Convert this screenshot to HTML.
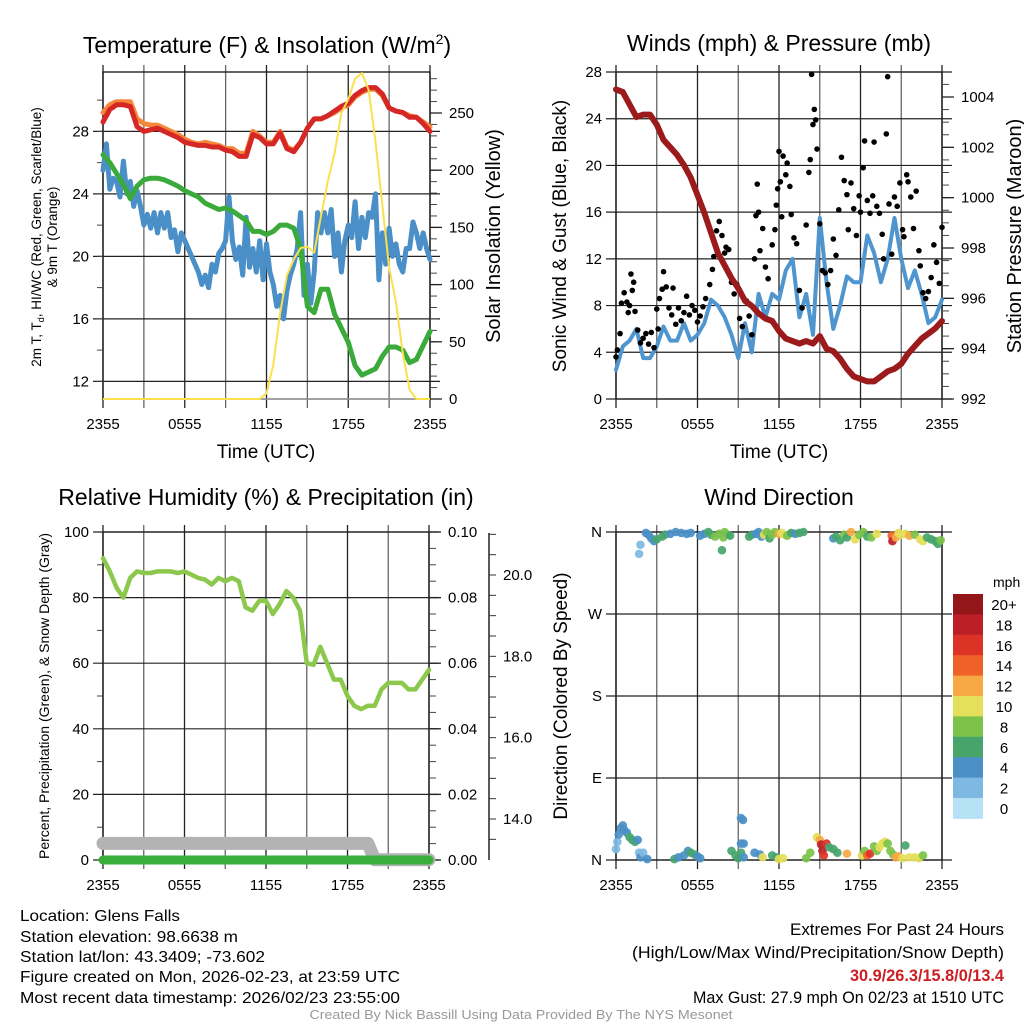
<!DOCTYPE html>
<html><head><meta charset="utf-8"><style>
html,body{margin:0;padding:0;background:#fff}
svg{display:block;font-family:"Liberation Sans",Arial,sans-serif}
</style></head><body>
<svg id="fig" width="1024" height="1024" viewBox="0 0 1024 1024" xmlns="http://www.w3.org/2000/svg">
<rect width="1024" height="1024" fill="#fff"/>
<text x="267" y="53" font-size="23" text-anchor="middle">Temperature (F) &amp; Insolation (W/m<tspan font-size="14" dy="-9">2</tspan><tspan dy="9">)</tspan></text>
<text x="779" y="51" font-size="23" text-anchor="middle">Winds (mph) &amp; Pressure (mb)</text>
<text x="266" y="505" font-size="23" text-anchor="middle">Relative Humidity (%) &amp; Precipitation (in)</text>
<text x="779" y="505" font-size="23" text-anchor="middle">Wind Direction</text>

<text x="266" y="458" font-size="19" text-anchor="middle">Time (UTC)</text>
<text x="779" y="458" font-size="19" text-anchor="middle">Time (UTC)</text>

<g transform="translate(41,237) rotate(-90)">
<text x="0" y="0" font-size="13.5" text-anchor="middle">2m T, T<tspan font-size="9" dy="3">d</tspan><tspan dy="-3">, HI/WC (Red, Green, Scarlet/Blue)</tspan></text>
<text x="0" y="16" font-size="13.5" text-anchor="middle">&amp; 9m T (Orange)</text>
</g>
<text transform="translate(500,236) rotate(-90)" font-size="20" text-anchor="middle">Solar Insolation (Yellow)</text>
<text transform="translate(566,236) rotate(-90)" font-size="19" text-anchor="middle">Sonic Wind &amp; Gust (Blue, Black)</text>
<text transform="translate(1021,236) rotate(-90)" font-size="20" text-anchor="middle">Station Pressure (Maroon)</text>
<text transform="translate(49,696) rotate(-90)" font-size="14" text-anchor="middle">Percent, Precipitation (Green), &amp; Snow Depth (Gray)</text>
<text transform="translate(567,696) rotate(-90)" font-size="19" text-anchor="middle">Direction (Colored By Speed)</text>

<g font-size="16">
<text x="20" y="921" textLength="160" lengthAdjust="spacingAndGlyphs">Location: Glens Falls</text>
<text x="20" y="942" textLength="218" lengthAdjust="spacingAndGlyphs">Station elevation: 98.6638 m</text>
<text x="20" y="962" textLength="245" lengthAdjust="spacingAndGlyphs">Station lat/lon: 43.3409; -73.602</text>
<text x="20" y="982" textLength="380" lengthAdjust="spacingAndGlyphs">Figure created on Mon, 2026-02-23, at 23:59 UTC</text>
<text x="20" y="1003" textLength="380" lengthAdjust="spacingAndGlyphs">Most recent data timestamp: 2026/02/23 23:55:00</text>
</g>
<g font-size="17" text-anchor="end">
<text x="1004" y="935" textLength="214" lengthAdjust="spacingAndGlyphs">Extremes For Past 24 Hours</text>
<text x="1004" y="958" textLength="372" lengthAdjust="spacingAndGlyphs">(High/Low/Max Wind/Precipitation/Snow Depth)</text>
<text x="1004" y="981" fill="#cc1f24" font-weight="bold" textLength="154" lengthAdjust="spacingAndGlyphs">30.9/26.3/15.8/0/13.4</text>
<text x="1004" y="1003" textLength="311" lengthAdjust="spacingAndGlyphs">Max Gust: 27.9 mph On 02/23 at 1510 UTC</text>
</g>
<text x="521" y="1019" font-size="13" fill="#999" text-anchor="middle" textLength="423" lengthAdjust="spacingAndGlyphs">Created By Nick Bassill Using Data Provided By The NYS Mesonet</text>
<text x="993" y="587" font-size="14">mph</text>
</svg>
<script>
// ---------- DATA ----------
var xTickLabels = ["2355","0555","1155","1755","2355"];
// Panel 1 (half-hour steps, 0..24 h)
var temp2m = [28.6,29.4,29.7,29.7,29.6,28.3,28.0,28.1,28.2,28.0,27.8,27.6,27.3,27.2,27.1,27.1,27.0,27.0,26.8,26.7,26.4,26.4,27.8,27.6,27.2,27.2,27.9,26.9,26.7,27.3,28.2,28.8,28.8,29.0,29.3,29.6,29.8,30.3,30.6,30.8,30.8,30.4,29.5,29.3,29.2,28.9,28.9,28.5,28.0];
var temp9m = [29.2,29.7,29.9,29.9,29.9,28.8,28.5,28.4,28.4,28.2,28.0,27.8,27.5,27.3,27.2,27.3,27.2,27.1,26.9,26.9,26.6,26.6,28.0,27.7,27.3,27.3,28.0,27.0,26.8,27.3,28.2,28.8,28.8,29.0,29.2,29.5,29.7,30.2,30.5,30.7,30.7,30.3,29.5,29.3,29.2,29.0,28.9,28.6,28.3];
var dewpoint = [26.5,26.0,25.3,24.6,23.7,24.5,24.9,25.0,25.0,24.9,24.7,24.5,24.2,24.0,23.8,23.4,23.2,23.0,23.1,22.9,22.6,22.3,21.6,21.6,21.4,21.6,22.0,22.0,21.8,20.5,16.8,16.4,17.9,17.9,16.3,15.4,14.5,13.0,12.4,12.6,12.8,13.6,14.2,14.2,14.0,13.2,13.4,14.3,15.2];
// quarter-hour steps
var windChill = [25.5,27.2,24.3,25.0,24.8,23.8,26.1,24.0,24.8,23.2,24.2,23.2,22.0,22.7,21.8,22.8,21.5,22.8,21.8,22.8,21.2,21.7,20.3,21.5,21.0,20.5,20.0,19.5,19.0,18.2,18.8,18.0,19.5,19.0,20.2,20.5,21.0,23.8,21.0,19.8,20.6,18.8,22.5,19.3,20.5,19.0,21.0,18.5,20.8,19.0,18.2,16.8,17.5,16.0,17.8,18.8,19.5,20.5,22.8,17.5,19.5,17.0,19.0,22.8,21.5,22.8,21.5,23.0,20.0,21.5,19.0,21.0,22.0,21.2,23.5,20.5,22.5,21.2,22.8,22.5,24.0,18.5,21.5,19.5,21.8,20.0,20.8,19.5,19.0,20.5,20.5,22.2,21.5,20.5,21.5,20.5,19.8];
var solar = [0,0,0,0,0,0,0,0,0,0,0,0,0,0,0,0,0,0,0,0,0,0,0,0,5,30,75,108,122,132,133,128,160,190,215,250,262,280,285,270,225,170,115,85,40,8,0,0,0];
// Panel 2
var sonicWind = [2.5,4.5,5.0,6.0,3.5,3.5,4.5,6.2,5.0,5.0,6.5,5.0,5.5,6.5,8.5,8.0,7.0,5.5,3.5,6.5,4.0,9.0,7.0,9.0,8.5,11.0,12.0,7.0,9.0,5.5,15.5,10.0,6.0,8.0,10.5,10.0,10.0,14.0,12.5,10.0,12.0,15.5,12.0,9.5,11.0,9.0,6.5,7.0,8.5];
var pressure = [1004.3,1004.2,1003.7,1003.2,1003.3,1003.3,1002.9,1002.3,1002.0,1001.7,1001.3,1000.8,1000.1,999.4,998.6,997.8,997.3,996.8,996.4,995.9,995.7,995.4,995.2,995.1,994.7,994.4,994.3,994.2,994.3,994.2,994.5,994.0,993.9,993.6,993.2,992.9,992.8,992.7,992.7,992.9,993.1,993.2,993.4,993.8,994.1,994.4,994.6,994.8,995.1];
var gustTime = [0.0,0.1,0.3,0.4,0.6,0.8,0.9,1.0,1.1,1.2,1.3,1.4,1.6,1.8,2.0,2.2,2.4,2.6,2.8,3.0,3.1,3.2,3.4,3.5,3.7,3.9,4.1,4.2,4.4,4.6,4.8,5.0,5.2,5.4,5.6,5.8,6.0,6.2,6.4,6.6,6.9,7.1,7.2,7.4,7.6,7.8,8.0,8.1,8.3,8.5,8.7,8.9,9.1,9.3,9.6,9.8,10.0,10.2,10.3,10.4,10.5,10.6,10.8,11.0,11.2,11.5,11.7,11.8,11.9,12.0,12.1,12.2,12.3,12.5,12.6,12.8,12.9,13.1,13.3,13.5,13.7,14.0,14.2,14.3,14.4,14.5,14.6,14.7,14.8,15.0,15.2,15.4,15.6,15.8,16.0,16.2,16.4,16.6,16.8,17.0,17.1,17.3,17.5,17.7,17.9,18.0,18.2,18.3,18.5,18.7,18.9,19.0,19.2,19.4,19.6,19.7,19.9,20.0,20.1,20.3,20.5,20.7,20.9,21.1,21.2,21.4,21.5,21.7,21.9,22.1,22.3,22.4,22.6,22.8,23.0,23.2,23.4,23.6,23.8,24.0];
var gustSpeed = [3.6,4.2,5.6,8.2,9.1,8.3,7.4,8.0,10.7,9.3,10.0,7.5,5.9,4.8,5.2,5.6,4.7,5.7,4.4,7.7,6.0,8.6,9.4,10.9,9.6,7.8,7.2,9.5,6.4,7.8,6.7,7.4,8.8,7.2,8.0,7.6,6.6,7.1,7.9,8.6,9.8,11.1,12.2,14.4,15.2,14.0,12.5,13.0,12.8,10.0,9.0,9.8,6.9,6.2,8.4,7.1,5.5,12.0,15.7,18.4,16.0,12.7,14.6,11.3,10.3,13.2,14.5,16.6,18.0,21.2,18.6,15.6,20.8,19.2,20.2,18.2,15.8,13.8,13.3,9.3,7.8,14.9,19.4,20.5,27.8,23.5,24.8,23.9,21.4,15.0,11.0,10.8,9.8,11.0,13.7,12.3,16.2,20.7,18.7,17.5,14.5,18.5,16.3,14.0,17.4,16.0,19.8,22.1,17.0,15.9,17.4,22.0,16.5,15.9,14.1,12.0,22.7,27.6,16.7,12.4,17.3,16.5,18.5,14.5,13.9,19.2,18.6,17.3,14.6,17.8,12.7,11.4,9.1,8.6,9.2,10.4,13.2,11.7,9.9,14.7];
// Panel 3 (half-hour steps)
var humidity = [92,88,83,80,86,88,87.5,87.5,88,88,88,87.5,88,87,86,85.5,84,86,85,86,85,77,76,79,79,75,78,82,80,76,60,59.5,65,60,55,55,50,47,46,47,47,52,54,54,54,52,52,55,58];
var precip = [0,0,0,0,0,0,0,0,0,0,0,0,0,0,0,0,0,0,0,0,0,0,0,0,0];
var snowDepth = [13.4,13.4,13.4,13.4,13.4,13.4,13.4,13.4,13.4,13.4,13.4,13.4,13.4,13.4,13.4,13.4,13.4,13.4,13.4,13.4,13.4,13.4,13.4,13.4,13.4,13.4,13.4,13.4,13.4,13.4,13.4,13.4,13.4,13.4,13.4,13.4,13.4,13.4,13.4,13.4,13.0,13.0,13.0,13.0,13.0,13.0,13.0,13.0,13.0];
// Panel 4
var dirTime = [0.0,0.1,0.2,0.35,0.5,0.6,0.8,1.0,1.2,1.4,1.6,1.7,1.8,2.0,2.3,1.7,1.8,2.2,2.4,2.6,2.8,3.0,3.4,3.6,4.0,4.4,4.8,5.2,5.5,4.3,4.6,5.0,5.3,5.5,5.8,6.0,6.2,6.2,6.5,6.8,7.0,7.3,7.6,7.9,8.0,8.2,8.4,7.8,8.5,8.8,9.0,9.2,9.4,9.2,9.35,9.2,9.4,9.8,10.0,10.3,10.5,10.7,10.9,11.1,11.3,11.5,11.7,12.0,12.2,12.4,12.6,12.9,13.2,13.5,13.8,10.2,10.6,10.8,11.5,11.8,12.0,12.3,14.0,14.3,14.8,15.0,15.1,15.2,15.3,15.5,15.7,16.0,16.3,17.0,16.0,16.2,16.5,16.8,17.0,17.3,17.6,17.9,18.2,18.5,18.8,19.2,18.1,18.3,18.5,18.7,19.0,19.2,19.4,19.6,19.8,20.0,20.2,20.4,20.6,20.8,21.1,21.3,21.6,22.0,22.3,22.6,20.3,20.35,20.6,20.8,21.0,21.3,21.6,22.0,22.4,22.6,22.9,23.2,23.5,23.7,23.9];
var dirDeg = [12,20,28,35,38,33,30,25,22,20,22,8,3,8,1,336,346,359,357,353,350,352,355,357,358,360,359,358,359,1,3,5,10,8,6,4,2,356,358,360,357,355,358,354,360,357,356,340,10,5,2,8,3,46,44,18,18,355,357,358,360,355,357,360,353,357,360,358,359,357,356,359,358,359,360,8,6,3,5,3,1,2,2,8,25,22,17,10,5,18,14,12,8,7,353,355,351,357,354,360,352,357,360,355,354,358,5,10,5,7,15,10,14,18,20,18,10,6,3,4,2,16,3,3,2,5,356,350,354,359,357,358,356,357,352,350,354,352,350,347,351];
var dirSpeed = [3,3,4,4,4,4,4,6,6,6,4,2,4,2,4,2,2,4,4,4,4,6,6,6,4,4,4,4,4,6,4,4,4,6,6,4,4,4,4,6,6,8,8,8,8,8,6,6,6,6,6,6,4,4,4,4,4,6,6,4,4,4,10,8,6,8,8,12,10,10,8,6,4,6,6,4,4,10,6,6,10,10,8,8,10,12,18,18,16,16,6,6,6,12,4,6,6,8,6,12,10,8,8,6,8,10,10,8,14,16,8,8,10,10,10,8,8,8,12,12,10,6,10,10,10,8,14,18,12,10,10,10,12,8,10,10,6,6,6,6,8];
var speedColors = ["#b6e2f6","#7db9e2","#4a8fc6","#47a56c","#7cc24a","#e5e059","#f6a845","#ef6129","#dc3327","#bd1f28","#931618"];
var speedLabels = ["0","2","4","6","8","10","12","14","16","18","20+"];
var tempTicks = [12,16,20,24,28];
var solarTicks = [0,50,100,150,200,250];
var windTicks = [0,4,8,12,16,20,24,28];
var pressTicks = [992,994,996,998,1000,1002,1004];
var rhTicks = [0,20,40,60,80,100];
var precipLabels = ["0.00","0.02","0.04","0.06","0.08","0.10"];
var snowTicks = [14,16,18,20];
var dirTicks = [0,90,180,270,360];
var dirLabels = ["N","E","S","W","N"];

// ---------- HELPERS ----------
var NS="http://www.w3.org/2000/svg";
var svg=document.getElementById('fig');
function mk(tag,attrs,parent){var e=document.createElementNS(NS,tag);for(var k in attrs)e.setAttribute(k,attrs[k]);(parent||svg).appendChild(e);return e;}
function lin(d0,d1,r0,r1){return function(v){return r0+(v-d0)*(r1-r0)/(d1-d0);};}
function pathFrom(vals,step,xs,ys){var d="";for(var i=0;i<vals.length;i++){d+=(i?"L":"M")+xs(i*step).toFixed(1)+","+ys(vals[i]).toFixed(1);}return d;}

function frame(p,name){
  var g=mk('g',{});
  
  
  for(var h=0;h<=24;h+=3){
    var x=p.xs(h);
    var gl=mk('line',{x1:x,x2:x,y1:p.yT-7,y2:p.yB+9,stroke:(h%6==0)?'#222':'#666','stroke-width':1.3},g);
    
    
  }
  for(var i=0;i<xTickLabels.length;i++){
    var t=mk('text',{x:p.xs(i*6),y:p.yB+30,'font-size':15,'text-anchor':'middle'},g);
    t.textContent=xTickLabels[i];
    
    
  }
  var b=mk('rect',{x:p.x0,y:p.yT,width:p.x1-p.x0,height:p.yB-p.yT,fill:'none',stroke:'#111','stroke-width':1.3},g);
  
  
  return g;
}
function hgrid(p,vals,ys,labels,g){
  for(var i=0;i<vals.length;i++){
    var y=ys(vals[i]);
    var l=mk('line',{x1:p.x0-10,x2:p.x1+10,y1:y,y2:y,stroke:'#222','stroke-width':1.2},g);
    
    
    var t=mk('text',{x:p.x0-14,y:y+5,'font-size':15,'text-anchor':'end'},g);
    t.textContent=labels?labels[i]:vals[i];
    
    
  }
}
function rightAxis(p,vals,ys,labels,minor0,minor1,minorStep,g){
  for(var v=minor0;v<=minor1+1e-6;v+=minorStep){
    var y=ys(v);
    var m=mk('line',{x1:p.x1,x2:p.x1+7,y1:y,y2:y,stroke:'#444','stroke-width':1},g);
    
    
  }
  for(var i=0;i<vals.length;i++){
    var y2=ys(vals[i]);
    var M=mk('line',{x1:p.x1,x2:p.x1+12,y1:y2,y2:y2,stroke:'#222','stroke-width':1.3},g);
    
    
    var t=mk('text',{x:p.x1+19,y:y2+5,'font-size':15},g);
    t.textContent=labels?labels[i]:vals[i];
    
    
  }
}

// ---------- PANEL 1 ----------
var p1={x0:103,x1:430,yT:72,yB:399};p1.xs=lin(0,24,p1.x0,p1.x1);
var y1=lin(10.87,31.8,399,72), ySol=lin(0,250,399,113);
var g1=frame(p1,'temperature');
hgrid(p1,tempTicks,y1,null,g1);
for(var v=12;v<=31;v+=2){var mt=mk('line',{x1:p1.x0-6,x2:p1.x0,y1:y1(v),y2:y1(v),stroke:'#444'},g1);

}
rightAxis(p1,solarTicks,ySol,null,0,280,10,g1);
var gb=mk('line',{x1:p1.x0,x2:p1.x1,y1:399,y2:399,stroke:'#999','stroke-width':1.5});


var s;
s=mk('path',{d:pathFrom(windChill,0.25,p1.xs,y1),fill:'none',stroke:'#4a8fc8','stroke-width':5,'stroke-linejoin':'round','stroke-linecap':'round'});


s=mk('path',{d:pathFrom(dewpoint,0.5,p1.xs,y1),fill:'none',stroke:'#3aaa3a','stroke-width':5,'stroke-linejoin':'round','stroke-linecap':'round'});


s=mk('path',{d:pathFrom(temp9m,0.5,p1.xs,y1),fill:'none',stroke:'#f5863a','stroke-width':5,'stroke-linejoin':'round','stroke-linecap':'round'});


s=mk('path',{d:pathFrom(temp2m,0.5,p1.xs,y1),fill:'none',stroke:'#d52826','stroke-width':5,'stroke-linejoin':'round','stroke-linecap':'round'});


s=mk('path',{d:pathFrom(solar,0.5,p1.xs,ySol),fill:'none',stroke:'#fbe04e','stroke-width':2,'stroke-linejoin':'round'});



// ---------- PANEL 2 ----------
var p2={x0:616,x1:942,yT:72,yB:399};p2.xs=lin(0,24,p2.x0,p2.x1);
var yW=lin(0,28,399,72), yP=lin(992,1004,399,97);
var g2=frame(p2,'winds');
hgrid(p2,windTicks,yW,null,g2);
rightAxis(p2,pressTicks,yP,null,992,1004.8,0.5,g2);
s=mk('path',{d:pathFrom(sonicWind,0.5,p2.xs,yW),fill:'none',stroke:'#4f95cf','stroke-width':4,'stroke-linejoin':'round','stroke-linecap':'round'});


var gg=mk('g',{});


for(var i=0;i<gustTime.length;i++){
  var c=mk('circle',{cx:p2.xs(gustTime[i]),cy:yW(gustSpeed[i]),r:2.8,fill:'#000'},gg);
  
  
}
s=mk('path',{d:pathFrom(pressure,0.5,p2.xs,yP),fill:'none',stroke:'#9b1b1d','stroke-width':6,'stroke-linejoin':'round','stroke-linecap':'round'});



// ---------- PANEL 3 ----------
var p3={x0:103,x1:429,yT:532,yB:860};p3.xs=lin(0,24,p3.x0,p3.x1);
var yRH=lin(0,100,860,532), yPr=lin(0,0.1,860,532), ySn=lin(14,20,819,575);
var g3=frame(p3,'humidity');
hgrid(p3,rhTicks,yRH,null,g3);
for(var v=10;v<100;v+=20){var mt3=mk('line',{x1:p3.x0-6,x2:p3.x0,y1:yRH(v),y2:yRH(v),stroke:'#444'},g3);

}
rightAxis(p3,[0,0.02,0.04,0.06,0.08,0.1],yPr,precipLabels,0,0.1,0.005,g3);
var sa=mk('line',{x1:489,x2:489,y1:533,y2:860,stroke:'#222','stroke-width':1.5},g3);


for(var v=13.5;v<=21;v+=0.5){var st=mk('line',{x1:489,x2:496,y1:ySn(v),y2:ySn(v),stroke:'#333'},g3);

}
for(var i=0;i<snowTicks.length;i++){
  var stl=mk('text',{x:503,y:ySn(snowTicks[i])+5,'font-size':15},g3);
  stl.textContent=snowTicks[i].toFixed(1);
  
  
}
s=mk('path',{d:pathFrom(snowDepth,0.5,p3.xs,ySn),fill:'none',stroke:'#b3b3b3','stroke-width':13,'stroke-linejoin':'round','stroke-linecap':'round'});


s=mk('path',{d:pathFrom(precip,1,p3.xs,yPr),fill:'none',stroke:'#3aae3a','stroke-width':9,'stroke-linecap':'round'});


s=mk('path',{d:pathFrom(humidity,0.5,p3.xs,yRH),fill:'none',stroke:'#8cc84b','stroke-width':4.5,'stroke-linejoin':'round','stroke-linecap':'round'});



// ---------- PANEL 4 ----------
var p4={x0:616,x1:942,yT:532,yB:860};p4.xs=lin(0,24,p4.x0,p4.x1);
var yD=lin(0,360,860,532);
var g4=frame(p4,'wind-direction');
hgrid(p4,dirTicks,yD,dirLabels,g4);
var gd=mk('g',{'fill-opacity':0.92});


for(var i=0;i<dirTime.length;i++){
  var ci=Math.min(10,Math.floor(dirSpeed[i]/2));
  var dc=mk('circle',{cx:p4.xs(dirTime[i]),cy:yD(dirDeg[i]),r:4.3,fill:speedColors[ci]},gd);
  
  
}
// colorbar
var gc=mk('g',{});


var cbTop=594,cbH=20.4;
for(var k=0;k<speedColors.length;k++){
  var idx=speedColors.length-1-k;
  var r=mk('rect',{x:953,y:cbTop+k*cbH,width:30,height:cbH+0.5,fill:speedColors[idx]},gc);
  
  
  var lt=mk('text',{x:1004,y:cbTop+k*cbH+16,'font-size':15,'text-anchor':'middle'},gc);
  lt.textContent=speedLabels[idx];
  
  
}
</script>
</body></html>
